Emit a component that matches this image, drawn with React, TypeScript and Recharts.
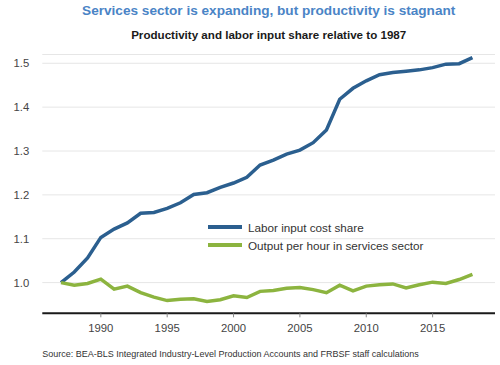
import React from "react";
import { LineChart, Line, XAxis, YAxis, CartesianGrid, Legend } from "recharts";

const years = [1987, 1988, 1989, 1990, 1991, 1992, 1993, 1994, 1995, 1996, 1997, 1998, 1999, 2000, 2001, 2002, 2003, 2004, 2005, 2006, 2007, 2008, 2009, 2010, 2011, 2012, 2013, 2014, 2015, 2016, 2017, 2018];

const laborInputCostShare = [1.0, 1.024, 1.056, 1.103, 1.122, 1.136, 1.158, 1.16, 1.169, 1.182, 1.201, 1.205, 1.217, 1.227, 1.24, 1.268, 1.279, 1.293, 1.302, 1.319, 1.348, 1.418, 1.443, 1.46, 1.474, 1.479, 1.482, 1.485, 1.49, 1.498, 1.499, 1.513];

const outputPerHour = [1.0, 0.994, 0.998, 1.008, 0.985, 0.992, 0.977, 0.967, 0.959, 0.962, 0.963, 0.957, 0.961, 0.97, 0.966, 0.98, 0.982, 0.987, 0.989, 0.984, 0.977, 0.994, 0.981, 0.992, 0.995, 0.997, 0.988, 0.995, 1.001, 0.998, 1.007, 1.019];

const xTicks = [1990, 1995, 2000, 2005, 2010, 2015];
const yTicks = [1.0, 1.1, 1.2, 1.3, 1.4, 1.5];

const seriesNames = ["Labor input cost share", "Output per hour in services sector"];
const seriesColors = ["#2b5f8f", "#8cb43f"];

const titleText = "Services sector is expanding, but productivity is stagnant";
const subtitleText = "Productivity and labor input share relative to 1987";
const sourceText = "Source: BEA-BLS Integrated Industry-Level Production Accounts and FRBSF staff calculations";

const data = years.map((y, i) => ({
  year: y,
  labor: laborInputCostShare[i],
  output: outputPerHour[i],
}));

const FONT = "'Liberation Sans', Arial, sans-serif";

const renderLegend = () => (
  <div style={{ fontFamily: FONT }}>
    {seriesNames.map((name, i) => (
      <div key={name} style={{ display: "flex", alignItems: "center", height: 18 }}>
        <svg width={34} height={6} style={{ display: "block" }}>
          <line x1={0} y1={3} x2={34} y2={3} stroke={seriesColors[i]} strokeWidth={4} />
        </svg>
        <span style={{ marginLeft: 6, fontSize: 11.7, color: "#333", whiteSpace: "nowrap" }}>{name}</span>
      </div>
    ))}
  </div>
);

export default function App() {
  return (
    <div style={{ position: "absolute", left: 0, top: 0, width: 500, height: 365, background: "#fff", fontFamily: FONT }}>
      <LineChart width={500} height={365} data={data} margin={{ top: 54.5, right: 5, bottom: 21.7, left: 0 }}>
        <CartesianGrid horizontal={true} vertical={false} stroke="#e6e6e6" strokeWidth={1} />
        <XAxis
          dataKey="year"
          type="number"
          domain={[1985.59, 2019.7]}
          allowDataOverflow
          ticks={xTicks}
          height={30}
          axisLine={{ stroke: "#1a1a1a", strokeWidth: 2 }}
          tickLine={{ stroke: "#888" }}
          tickSize={4}
          tickMargin={7}
          tick={{ fill: "#444", fontSize: 11.3, fontFamily: FONT }}
        />
        <YAxis
          type="number"
          domain={[0.93, 1.52]}
          allowDataOverflow
          ticks={yTicks}
          width={42.3}
          axisLine={false}
          tickLine={false}
          tickSize={6}
          tickMargin={7}
          tickFormatter={(v: number) => v.toFixed(1)}
          tick={{ fill: "#444", fontSize: 11.3, fontFamily: FONT }}
        />
        <Legend
          content={renderLegend}
          layout="vertical"
          verticalAlign="middle"
          align="center"
          wrapperStyle={{ position: "absolute", left: 208, top: 218.3, width: "auto" }}
        />
        <Line type="linear" dataKey="labor" name={seriesNames[0]} stroke={seriesColors[0]} strokeWidth={3.5} dot={false} isAnimationActive={false} />
        <Line type="linear" dataKey="output" name={seriesNames[1]} stroke={seriesColors[1]} strokeWidth={3.5} dot={false} isAnimationActive={false} />
      </LineChart>
      <svg width={500} height={365} style={{ position: "absolute", left: 0, top: 0, pointerEvents: "none" }}>
        <text x={268.7} y={15} textAnchor="middle" fill="#4a84c6" fontSize={13.6} fontWeight="bold" fontFamily={FONT}>{titleText}</text>
        <text x={268.7} y={39} textAnchor="middle" fill="#1a1a1a" fontSize={11.6} fontWeight="bold" fontFamily={FONT}>{subtitleText}</text>
        <text x={42.3} y={357} fill="#333" fontSize={9} fontFamily={FONT}>{sourceText}</text>
      </svg>
    </div>
  );
}
